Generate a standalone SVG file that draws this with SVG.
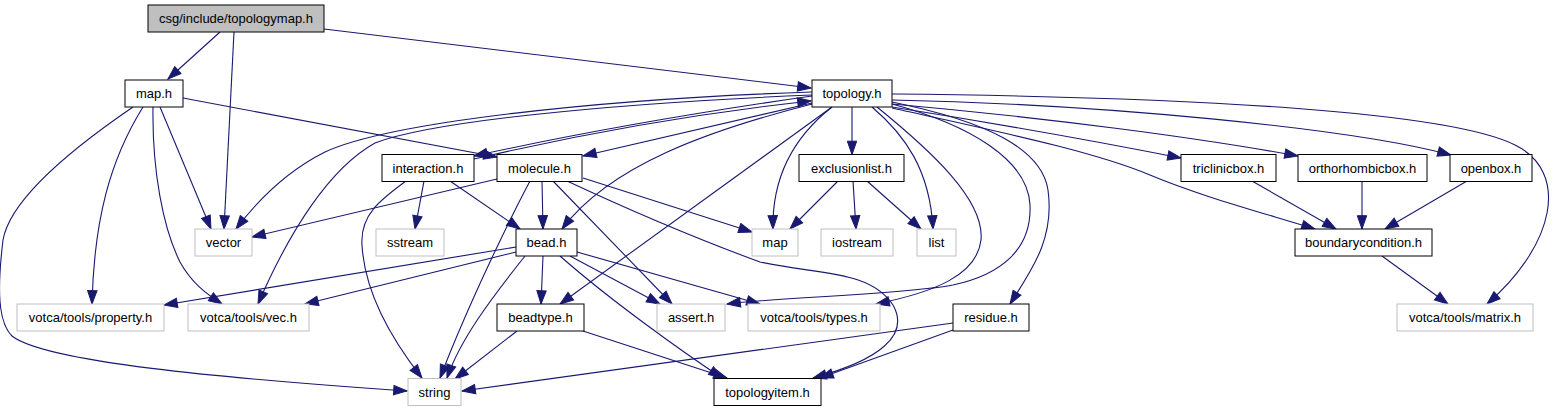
<svg xmlns="http://www.w3.org/2000/svg" width="1559" height="411" viewBox="0 0 1559 411">
<style>
  rect { stroke-width: 1; }
  .doc rect { fill: #ffffff; stroke: #000000; }
  .ext rect { fill: #ffffff; stroke: #bfbfbf; }
  .root rect { fill: #bfbfbf; stroke: #000000; }
  text { font-family: "Liberation Sans", Arial, sans-serif; font-size: 13px; fill: #000000; text-anchor: middle; }
  #edges path { fill: none; stroke: #191970; stroke-width: 1.1; marker-end: url(#arr); }
</style>
<defs>
  <marker id="arr" markerUnits="userSpaceOnUse" markerWidth="14" markerHeight="10" refX="13.3" refY="4.7" orient="auto" viewBox="0 0 14 10" overflow="visible">
    <path d="M0,0 L13.3,4.7 L0,9.4 z" fill="#191970" stroke="#191970" stroke-width="1"/>
  </marker>
</defs>
<rect width="1559" height="411" fill="#ffffff"/>
<g id="edges">
  <path d="M220,32 L168,79"/>
  <path d="M234,32 L224,229"/>
  <path d="M324,29 L811,88"/>
  <path d="M183,98 L497,157"/>
  <path d="M133,107 C70,150 10,200 3,240 C-3,290 -2,322 12,336 C45,362 220,378 407,391"/>
  <path d="M143,107 C110,160 94,220 92,304"/>
  <path d="M153,107 C152,170 163,228 180,262 C191,282 205,293 222,304"/>
  <path d="M160,107 L211,229"/>
  <path d="M812,96 C700,112 570,135 474,156"/>
  <path d="M474,159 C590,132 710,112 811,101"/>
  <path d="M812,103 L583,156"/>
  <path d="M812,92 C600,99 390,122 325,152 C285,172 258,200 236,229"/>
  <path d="M812,95 C600,104 430,122 375,143 C330,168 290,230 258,304"/>
  <path d="M812,104 C710,130 610,165 562,229"/>
  <path d="M832,107 L560,304"/>
  <path d="M852,107 L852,154.5"/>
  <path d="M832,107 C790,140 772,180 773,229"/>
  <path d="M872,107 C905,135 930,170 933,229"/>
  <path d="M877,107 C930,150 985,200 981,240 C977,275 935,292 876,304"/>
  <path d="M892,104 C970,125 1028,160 1030,205 C1032,250 1000,275 953,285 C900,295 780,297 727,304"/>
  <path d="M892,102 C990,122 1042,150 1048,190 C1055,240 1030,272 1010,304"/>
  <path d="M892,107 C1000,124 1100,142 1181,158"/>
  <path d="M892,104 C1050,118 1200,138 1298,156"/>
  <path d="M892,100 C1100,104 1350,128 1451,155"/>
  <path d="M892,108 C990,130 1090,150 1150,175 C1200,196 1260,212 1315,229"/>
  <path d="M892,94 C1200,97 1450,112 1515,145 C1570,172 1555,245 1487,304"/>
  <path d="M406,181 C380,200 360,215 362,245 C365,300 400,350 422,378"/>
  <path d="M424,181 L415,229"/>
  <path d="M450,181 L520,229"/>
  <path d="M497,179 L252,237"/>
  <path d="M530,181 C512,215 470,300 440,378"/>
  <path d="M542,181 L543,229"/>
  <path d="M553,181 L672,304"/>
  <path d="M583,178 L752,232"/>
  <path d="M567,181 C640,215 700,240 760,262 C820,275 870,270 893,305 C910,335 880,360 813,378"/>
  <path d="M838,181 L790,229"/>
  <path d="M853,181 L856,229"/>
  <path d="M867,181 L921,229"/>
  <path d="M516,247 L164,305"/>
  <path d="M516,252 L305,304"/>
  <path d="M525,256 C490,300 460,340 447,378"/>
  <path d="M543,256 L541,304"/>
  <path d="M570,256 L660,304"/>
  <path d="M577,252 L760,304"/>
  <path d="M560,256 C610,300 680,350 722,378"/>
  <path d="M517,331 L455,379"/>
  <path d="M583,331 L727,378"/>
  <path d="M953,323 L462,391"/>
  <path d="M953,330 L820,378"/>
  <path d="M1252,181 L1336,229"/>
  <path d="M1362,181 L1362,229"/>
  <path d="M1467,181 L1385,229"/>
  <path d="M1382,256 L1448,304"/>
</g>
<g id="n_topologymap" class="root"><rect x="148" y="5" width="176" height="27"/><text x="236" y="23">csg/include/topologymap.h</text></g>
<g id="n_maph" class="doc"><rect x="125" y="80" width="58" height="27"/><text x="154" y="98">map.h</text></g>
<g id="n_topology" class="doc"><rect x="812" y="80" width="80" height="27"/><text x="852" y="98">topology.h</text></g>
<g id="n_interaction" class="doc"><rect x="382" y="154.5" width="92" height="27"/><text x="428" y="172.5">interaction.h</text></g>
<g id="n_molecule" class="doc"><rect x="497" y="154.5" width="85" height="27"/><text x="539.5" y="172.5">molecule.h</text></g>
<g id="n_exclusionlist" class="doc"><rect x="799" y="154.5" width="105" height="27"/><text x="851.5" y="172.5">exclusionlist.h</text></g>
<g id="n_triclinicbox" class="doc"><rect x="1181" y="154.5" width="95" height="27"/><text x="1228.5" y="172.5">triclinicbox.h</text></g>
<g id="n_orthorhombicbox" class="doc"><rect x="1298" y="154.5" width="129" height="27"/><text x="1362.5" y="172.5">orthorhombicbox.h</text></g>
<g id="n_openbox" class="doc"><rect x="1450" y="154.5" width="82" height="27"/><text x="1491" y="172.5">openbox.h</text></g>
<g id="n_vector" class="ext"><rect x="195" y="229" width="57" height="27"/><text x="223.5" y="247">vector</text></g>
<g id="n_sstream" class="ext"><rect x="376" y="229" width="68" height="27"/><text x="410" y="247">sstream</text></g>
<g id="n_bead" class="doc"><rect x="516" y="229" width="61" height="27"/><text x="546.5" y="247">bead.h</text></g>
<g id="n_map" class="ext"><rect x="752" y="229" width="46" height="27"/><text x="775" y="247">map</text></g>
<g id="n_iostream" class="ext"><rect x="821" y="229" width="72" height="27"/><text x="857" y="247">iostream</text></g>
<g id="n_list" class="ext"><rect x="917" y="229" width="39" height="27"/><text x="936.5" y="247">list</text></g>
<g id="n_boundarycondition" class="doc"><rect x="1295" y="229" width="137" height="27"/><text x="1363.5" y="247">boundarycondition.h</text></g>
<g id="n_property" class="ext"><rect x="17" y="304" width="147" height="27"/><text x="90.5" y="322">votca/tools/property.h</text></g>
<g id="n_vec" class="ext"><rect x="188" y="304" width="121" height="27"/><text x="248.5" y="322">votca/tools/vec.h</text></g>
<g id="n_beadtype" class="doc"><rect x="497" y="304" width="87" height="27"/><text x="540.5" y="322">beadtype.h</text></g>
<g id="n_assert" class="ext"><rect x="657" y="304" width="68" height="27"/><text x="691" y="322">assert.h</text></g>
<g id="n_types" class="ext"><rect x="748" y="304" width="132" height="27"/><text x="814" y="322">votca/tools/types.h</text></g>
<g id="n_residue" class="doc"><rect x="953" y="304" width="76" height="27"/><text x="991" y="322">residue.h</text></g>
<g id="n_matrix" class="ext"><rect x="1397" y="304" width="136" height="27"/><text x="1465" y="322">votca/tools/matrix.h</text></g>
<g id="n_string" class="ext"><rect x="408" y="378.5" width="53" height="27"/><text x="434.5" y="396.5">string</text></g>
<g id="n_topologyitem" class="doc"><rect x="714" y="378.5" width="107" height="27"/><text x="767.5" y="396.5">topologyitem.h</text></g>
</svg>
